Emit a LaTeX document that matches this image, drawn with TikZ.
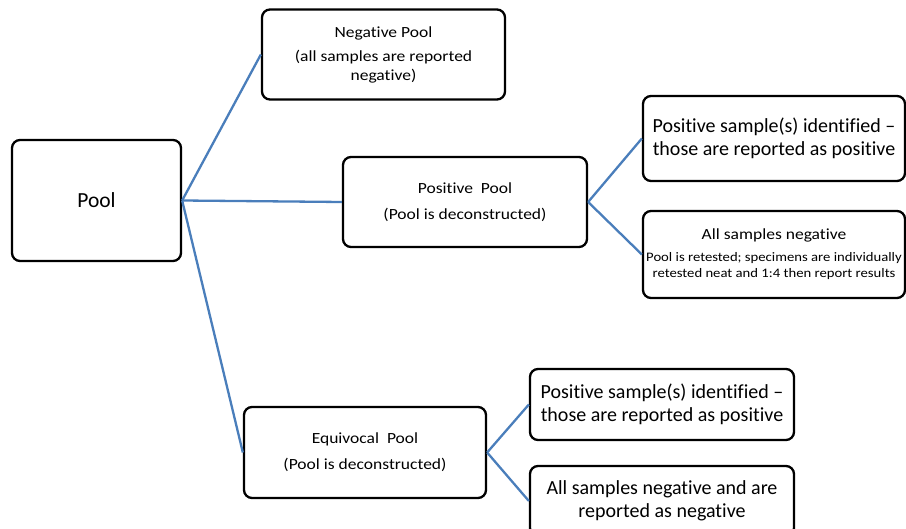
\documentclass[tikz,border=0pt]{standalone}
\usepackage{fontspec}
\setmainfont{Carlito}[Ligatures=NoCommon]
\newfontfamily\widefont{Carlito}[FakeStretch=1.13, Ligatures=NoCommon]
\definecolor{lnblue}{HTML}{4A7EBB}
\begin{document}
\begin{tikzpicture}[x=1pt,y=-1pt,
  box/.style={draw=black, line width=2.3pt, rounded corners=8pt, fill=white, align=center, inner sep=0pt},
  link/.style={draw=lnblue, line width=2.3pt},
  fa/.style={font=\widefont\fontsize{15.5}{19}\selectfont},
  fb/.style={font=\fontsize{20}{22.5}\selectfont}]
\useasboundingbox (0,0) rectangle (906,529);
\node[box, minimum width=169pt, minimum height=121pt, font=\fontsize{21.5}{25}\selectfont] (pool) at (96.5,200.5) {Pool};
\node[box, fa, minimum width=243pt, minimum height=90pt] (neg) at (383.5,54.5) {Negative Pool\\[5pt](all samples are reported\\negative)};
\node[box, fa, minimum width=244pt, minimum height=90pt] (pos) at (465,202) {Positive\ \ Pool\\[7pt](Pool is deconstructed)};
\node[box, fb, minimum width=262pt, minimum height=85pt] (ps1) at (774,138.5) {Positive sample(s) identified --\\those are reported as positive};
\node[box, font=\widefont\fontsize{13}{16}\selectfont, minimum width=262pt, minimum height=87pt] (an1) at (774,254.5) {{\fontsize{15.5}{19}\selectfont All samples negative}\\[6pt]Pool is retested; specimens are individually\\retested neat and 1:4 then report results};
\node[box, fa, minimum width=242pt, minimum height=91pt] (eq) at (365,452.5) {Equivocal\ \ Pool\\[7pt](Pool is deconstructed)};
\node[box, fb, minimum width=264pt, minimum height=71pt] (ps2) at (662,404.5) {Positive sample(s) identified --\\those are reported as positive};
\node[box, fb, minimum width=264pt, minimum height=70pt] (an2) at (662,501) {All samples negative and are\\reported as negative};
\draw[link] (pool.east) -- (neg.west);
\draw[link] (pool.east) -- (pos.west);
\draw[link] (pool.east) -- (eq.west);
\draw[link] (pos.east) -- (ps1.west);
\draw[link] (pos.east) -- (an1.west);
\draw[link] (eq.east) -- (ps2.west);
\draw[link] (eq.east) -- (an2.west);
\end{tikzpicture}
\end{document}
